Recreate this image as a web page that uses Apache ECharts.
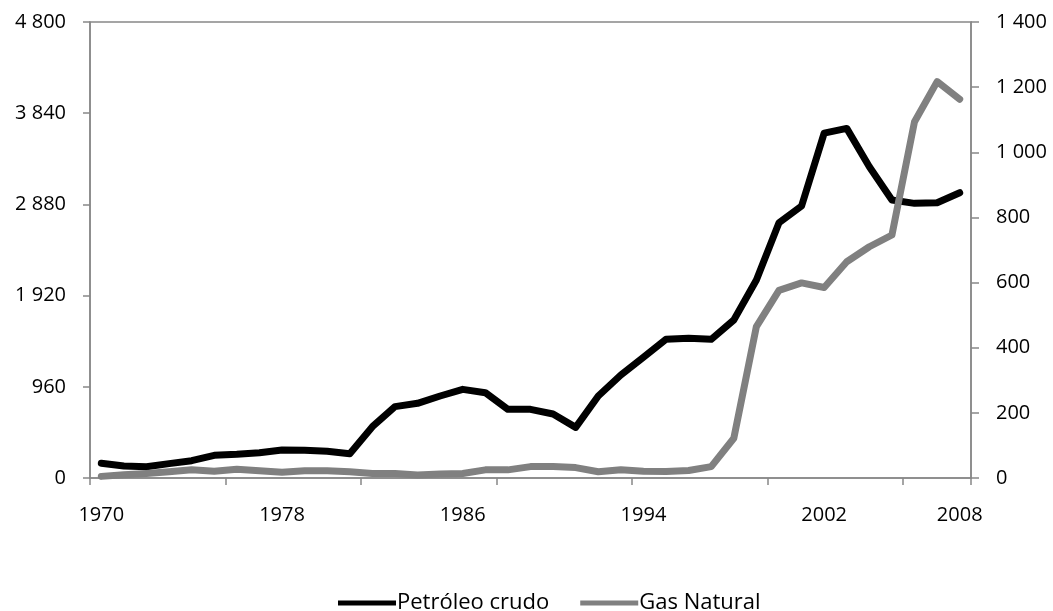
<!DOCTYPE html>
<html>
<head>
<meta charset="utf-8">
<script src="https://cdn.jsdelivr.net/npm/echarts@6/dist/echarts.min.js"></script>
<style>
html,body{margin:0;padding:0;background:#fff;}
#chart{width:1053px;height:611px;}
</style>
</head>
<body>
<div id="chart"></div>
<script>
const years = ['1970','1971','1972','1973','1974','1975','1976','1977','1978','1979',
  '1980','1981','1982','1983','1984','1985','1986','1987','1988','1989',
  '1990','1991','1992','1993','1994','1995','1996','1997','1998','1999',
  '2000','2001','2002','2003','2004','2005','2006','2007','2008'];
const petroleo = [155,126,119,151,182,239,249,266,295,291,
  281,256,540,751,786,863,933,898,723,723,
  674,533,863,1084,1270,1460,1470,1460,1663,2084,
  2687,2863,3630,3680,3277,2926,2891,2898,3003];
const gas = [5,10,14,19,25,21,27,22,18,22,
  22,19,14,14,9,12,14,25,25,35,
  35,32,19,25,21,20,23,35,122,465,
  576,599,585,664,710,746,1094,1217,1163];
const seriesNames = ['Petróleo crudo','Gas Natural'];
const labelYears = ['1970','1978','1986','1994','2002','2008'];

const FONT = 'Open Sans';
const fmt = v => String(v).replace(/\B(?=(\d{3})+(?!\d))/g, ' ');
const axisColor = '#888888';

const chart = echarts.init(document.getElementById('chart'), null, {renderer:'canvas'});
chart.setOption({
  animation:false,
  backgroundColor:'#ffffff',
  textStyle:{fontFamily:FONT},
  grid:{left:90,right:82,top:22,bottom:133,show:true,borderColor:axisColor,borderWidth:1.5,backgroundColor:'transparent'},
  legend:{
    data:seriesNames,
    left:338, top:592, padding:0,
    icon:'rect', itemWidth:58, itemHeight:5, itemGap:31,
    textStyle:{fontFamily:FONT,fontSize:22,color:'#000',padding:[0,0,0,-4]}
  },
  xAxis:{
    type:'category', data:years, boundaryGap:true,
    axisLine:{show:true,lineStyle:{color:axisColor,width:1.5}},
    axisTick:{show:true,interval:5,alignWithLabel:false,length:7,lineStyle:{color:axisColor,width:1.5}},
    axisLabel:{
      interval:(idx,val)=>labelYears.indexOf(val)>=0,
      margin:27, fontFamily:FONT, fontSize:20, color:'#000'
    },
    splitLine:{show:false}
  },
  yAxis:[
    {type:'value',min:0,max:4800,interval:960,position:'left',
     axisLine:{show:true,lineStyle:{color:axisColor,width:1.5}},
     axisTick:{show:true,length:7,lineStyle:{color:axisColor,width:1.5}},
     axisLabel:{formatter:fmt,margin:24,fontFamily:FONT,fontSize:20,color:'#000'},
     splitLine:{show:false}},
    {type:'value',min:0,max:1400,interval:200,position:'right',
     axisLine:{show:true,lineStyle:{color:axisColor,width:1.5}},
     axisTick:{show:true,length:8,lineStyle:{color:axisColor,width:1.5}},
     axisLabel:{formatter:fmt,margin:25,fontFamily:FONT,fontSize:20,color:'#000'},
     splitLine:{show:false}}
  ],
  series:[
    {name:seriesNames[0],type:'line',yAxisIndex:0,data:petroleo,showSymbol:false,symbol:'none',
     color:'#000000',lineStyle:{color:'#000000',width:7,cap:'round',join:'round'}},
    {name:seriesNames[1],type:'line',yAxisIndex:1,data:gas,showSymbol:false,symbol:'none',
     color:'#808080',lineStyle:{color:'#808080',width:7,cap:'round',join:'round'}}
  ]
});
</script>
</body>
</html>
